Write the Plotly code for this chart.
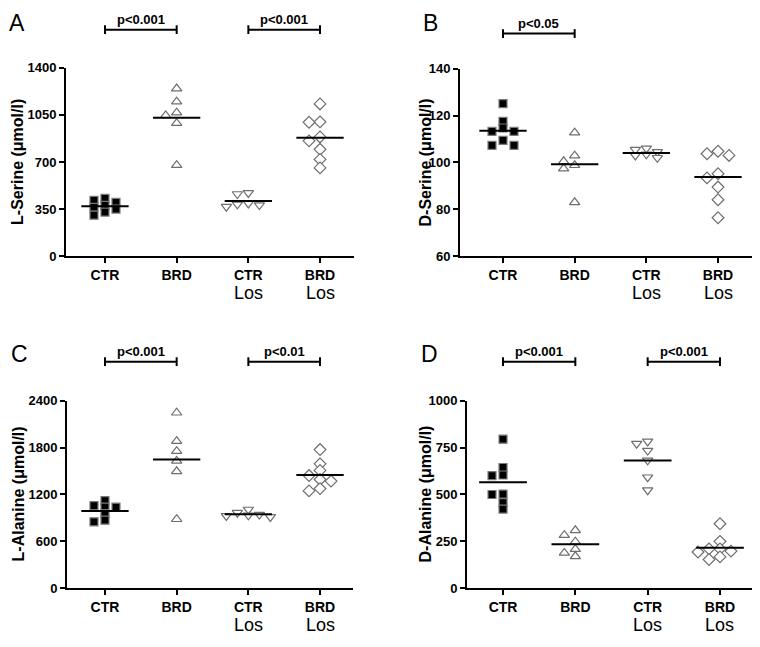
import plotly.graph_objects as go

# ---------------- data ----------------
categories = ["CTR", "BRD", "CTR", "BRD"]
subgroups = ["", "", "Los", "Los"]

# Panel A: L-Serine (umol/l)
lser_ctr = [430, 415, 400, 378, 362, 350, 328, 305]
lser_brd = [1245, 1148, 1066, 1046, 988, 676]
lser_ctr_los = [470, 462, 392, 385, 380, 368]
lser_brd_los = [1131, 998, 995, 886, 857, 794, 719, 656]

# Panel B: D-Serine (umol/l)
dser_ctr = [125.1, 117.5, 114.7, 113.3, 113.3, 109.4, 107.3, 107.3]
dser_brd = [112.7, 102.9, 100.5, 98.8, 97.4, 83.0]
dser_ctr_los = [106.0, 105.5, 104.5, 103.5, 103.0, 102.0]
dser_brd_los = [104.8, 103.7, 103.0, 95.2, 93.4, 89.5, 84.1, 76.4]

# Panel C: L-Alanine (umol/l)
lala_ctr = [1121, 1058, 1037, 1037, 954, 871, 850]
lala_brd = [2246, 1883, 1754, 1629, 1496, 883]
lala_ctr_los = [1008, 967, 942, 933, 925, 913]
lala_brd_los = [1775, 1592, 1508, 1442, 1392, 1371, 1275, 1246]

# Panel D: D-Alanine (umol/l)
dala_ctr = [795, 644, 604, 601, 502, 500, 457, 422]
dala_brd = [309, 283, 248, 208, 188, 170]
dala_ctr_los = [783, 771, 734, 682, 592, 523]
dala_brd_los = [344, 250, 210, 210, 198, 193, 167, 153]

y_titles = ["L-Serine (μmol/l)", "D-Serine (μmol/l)", "L-Alanine (μmol/l)", "D-Alanine (μmol/l)"]
panel_letters = ["A", "B", "C", "D"]
y_ticks = [[0, 350, 700, 1050, 1400], [60, 80, 100, 120, 140],
           [0, 600, 1200, 1800, 2400], [0, 250, 500, 750, 1000]]
p_labels = [[(0, 1, "p&lt;0.001"), (2, 3, "p&lt;0.001")],
            [(0, 1, "p&lt;0.05")],
            [(0, 1, "p&lt;0.001"), (2, 3, "p&lt;0.01")],
            [(0, 1, "p&lt;0.001"), (2, 3, "p&lt;0.001")]]
series = [[lser_ctr, lser_brd, lser_ctr_los, lser_brd_los],
          [dser_ctr, dser_brd, dser_ctr_los, dser_brd_los],
          [lala_ctr, lala_brd, lala_ctr_los, lala_brd_los],
          [dala_ctr, dala_brd, dala_ctr_los, dala_brd_los]]

# ---------------- layout geometry (page pixels) ----------------
W, H = 760, 647
OFF = 8                      # default body margin of the html page
FW, FH = W - OFF, H - OFF    # figure size so that it fills the window exactly


def px(x):
    return (x - OFF) / FW


def py(y):
    return 1 - (y - OFF) / FH


boxes = [(66, 354, 62, 255), (460, 755, 63, 255), (67, 353, 403, 595), (467, 755, 403, 595)]
xranges = [[-0.544, 3.474], [-0.60, 3.516], [-0.53, 3.46], [-0.498, 3.484]]
title_x = [18, 425, 18, 425]
letter_pos = [(17, 16), (430, 16), (19, 355), (429, 355)]
bracket_y = [23, 27, 363, 363]
los_y = [293, 293, 633, 633]

FONT = "Liberation Sans, Arial, sans-serif"
styles = [
    dict(symbol="square", color="black", line=dict(color="#7a7a7a", width=1.2), size=8),
    dict(symbol="triangle-up", color="white", line=dict(color="#6e6e6e", width=1.2), size=9),
    dict(symbol="triangle-down", color="white", line=dict(color="#6e6e6e", width=1.2), size=9),
    dict(symbol="diamond", color="white", line=dict(color="#6e6e6e", width=1.2), size=9),
]


def swarm(values, ppy, ppx, d_px=11.0, size_px=6.0):
    order = sorted(range(len(values)), key=lambda i: -values[i])
    placed = []
    offs = [0.0] * len(values)
    for i in order:
        chosen = 0.0
        for k in [0, -1, 1, -2, 2, -3, 3]:
            ox = k * d_px
            if all(not (abs(ox - qx) < d_px * 0.9 and abs((values[i] - v) * ppy) < size_px)
                   for qx, v in placed):
                chosen = ox
                break
        placed.append((chosen, values[i]))
        offs[i] = chosen / ppx
    return offs


fig = go.Figure()
shapes = []
annotations = []

for p in range(4):
    L, R, T, B = boxes[p]
    xa = "x" if p == 0 else f"x{p+1}"
    ya = "y" if p == 0 else f"y{p+1}"
    xr = xranges[p]
    yr = [y_ticks[p][0], y_ticks[p][-1]]
    ppx = (R - L) / (xr[1] - xr[0])
    ppy_ = (B - T) / (yr[1] - yr[0])
    for g, vals in enumerate(series[p]):
        offs = swarm(vals, ppy_, ppx)
        st = styles[g]
        fig.add_trace(go.Scatter(
            x=[g + o for o in offs], y=vals, xaxis=xa, yaxis=ya, mode="markers",
            marker=dict(symbol=st["symbol"], color=st["color"], size=st["size"], line=st["line"]),
            showlegend=False, hoverinfo="y"))
        mean = sum(vals) / len(vals)
        fig.add_trace(go.Scatter(
            x=[g - 0.33, g + 0.33], y=[mean, mean], xaxis=xa, yaxis=ya, mode="lines",
            line=dict(color="black", width=2), showlegend=False, hoverinfo="skip"))

    axis_common = dict(showline=True, linecolor="black", linewidth=2, ticks="outside",
                       ticklen=5, tickwidth=2, tickcolor="black", showgrid=False, zeroline=False)
    xkey = "xaxis" if p == 0 else f"xaxis{p+1}"
    ykey = "yaxis" if p == 0 else f"yaxis{p+1}"
    fig.update_layout({
        xkey: dict(axis_common, domain=[px(L), px(R)], range=xr, anchor=ya,
                   tickmode="array", tickvals=list(range(len(categories))), ticktext=categories,
                   tickfont=dict(family=FONT, size=14, color="black", weight="bold")),
        ykey: dict(axis_common, domain=[py(B), py(T)], range=yr, anchor=xa,
                   tickmode="array", tickvals=y_ticks[p],
                   tickfont=dict(family=FONT, size=13, color="black", weight="bold")),
    })

    for g, sg in enumerate(subgroups):
        if sg:
            annotations.append(dict(text=sg, x=g, xref=xa, y=py(los_y[p]), yref="paper",
                                    showarrow=False, xanchor="center", yanchor="middle",
                                    borderpad=0,
                                    font=dict(family=FONT, size=18, color="black")))
    annotations.append(dict(text=y_titles[p], x=px(title_x[p]), xref="paper",
                            y=py((T + B) / 2), yref="paper", textangle=-90,
                            showarrow=False, xanchor="center", yanchor="middle",
                            font=dict(family=FONT, size=16, color="black", weight="bold")))
    lx, ly = letter_pos[p]
    annotations.append(dict(text=panel_letters[p], x=px(lx), xref="paper", y=py(ly),
                            yref="paper", showarrow=False, xanchor="center", yanchor="middle",
                            font=dict(family=FONT, size=23, color="black")))
    by = py(bracket_y[p])
    cap = 4.5 / FH
    for a, b, txt in p_labels[p]:
        shapes.append(dict(type="line", xref=xa, yref="paper", x0=a, x1=b, y0=by, y1=by,
                           line=dict(color="black", width=2)))
        for xx in (a, b):
            shapes.append(dict(type="line", xref=xa, yref="paper", x0=xx, x1=xx,
                               y0=by - cap, y1=by + cap, line=dict(color="black", width=2)))
        annotations.append(dict(text=txt, x=(a + b) / 2, xref=xa, y=by + 10 / FH, yref="paper",
                                showarrow=False, xanchor="center", yanchor="middle",
                                font=dict(family=FONT, size=13, color="black", weight="bold")))

fig.update_layout(width=FW, height=FH, margin=dict(l=0, r=0, t=0, b=0),
                  paper_bgcolor="white", plot_bgcolor="white",
                  shapes=shapes, annotations=annotations, showlegend=False)

fig.write_html("out.html")
